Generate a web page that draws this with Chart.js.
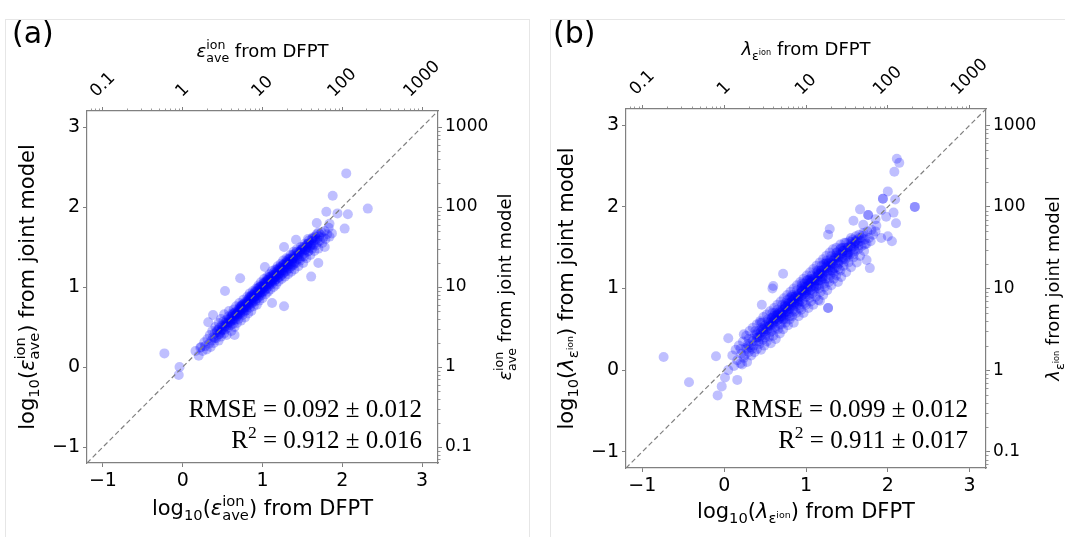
<!DOCTYPE html>
<html>
<head>
<meta charset="utf-8">
<script src="https://cdn.jsdelivr.net/npm/chart.js@4.4.1/dist/chart.umd.min.js"></script>
<style>
html, body { margin: 0; padding: 0; background: #fff; }
#wrap { position: relative; width: 1065px; height: 537px; overflow: hidden; }
.frame { position: absolute; border: 1px solid #e6e6e6; }
canvas { position: absolute; top: 0; }
</style>
</head>
<body>
<div id="wrap">
  <div class="frame" style="left:5px;top:19px;width:523px;height:540px"></div>
  <div class="frame" style="left:550px;top:19px;width:530px;height:540px"></div>
  <canvas id="chartA" width="540" height="537" style="left:0"></canvas>
  <canvas id="chartB" width="525" height="537" style="left:540px"></canvas>
</div>
<script>
// Axes communs (log10)
const axisRange = [-1.2, 3.2];
const linearTicks = [-1, 0, 1, 2, 3];
const decadeTicks = [0.1, 1, 10, 100, 1000];
const decadeLabels = ['0.1', '1', '10', '100', '1000'];
const minorTicks = [0.07, 0.08, 0.09, 0.2, 0.3, 0.4, 0.5, 0.6, 0.7, 0.8, 0.9,
    2, 3, 4, 5, 6, 7, 8, 9, 20, 30, 40, 50, 60, 70, 80, 90,
    200, 300, 400, 500, 600, 700, 800, 900];

// Panneau (a) : [log10 DFPT, log10 modèle]
const pointsA = [
    [0.22,0.24],[0.25,0.20],[0.27,0.31],[0.28,0.26],[0.30,0.22],[0.31,0.35],[0.33,0.29],[0.34,0.40],[0.35,0.25],[0.36,0.33],
    [0.37,0.45],[0.38,0.37],[0.39,0.30],[0.40,0.42],[0.41,0.50],[0.42,0.36],[0.43,0.46],[0.44,0.40],[0.45,0.55],[0.45,0.33],
    [0.46,0.49],[0.47,0.43],[0.48,0.60],[0.48,0.38],[0.49,0.52],[0.50,0.46],[0.51,0.57],[0.52,0.42],[0.52,0.66],[0.53,0.51],
    [0.54,0.47],[0.55,0.59],[0.55,0.40],[0.56,0.54],[0.57,0.63],[0.57,0.49],[0.58,0.70],[0.59,0.56],[0.60,0.52],[0.60,0.62],
    [0.61,0.45],[0.62,0.67],[0.62,0.58],[0.63,0.54],[0.64,0.72],[0.64,0.61],[0.65,0.50],[0.66,0.65],[0.66,0.59],[0.67,0.76],
    [0.68,0.63],[0.68,0.55],[0.69,0.70],[0.70,0.66],[0.70,0.60],[0.71,0.80],[0.72,0.68],[0.72,0.73],[0.73,0.58],[0.74,0.71],
    [0.74,0.77],[0.75,0.65],[0.76,0.84],[0.76,0.73],[0.77,0.69],[0.78,0.78],[0.78,0.62],[0.79,0.75],[0.80,0.82],[0.80,0.71],
    [0.81,0.88],[0.82,0.77],[0.82,0.67],[0.83,0.81],[0.84,0.74],[0.84,0.92],[0.85,0.85],[0.86,0.79],[0.86,0.70],[0.87,0.88],
    [0.88,0.83],[0.88,0.95],[0.89,0.76],[0.90,0.87],[0.90,0.92],[0.91,0.82],[0.92,0.98],[0.92,0.89],[0.93,0.78],[0.94,0.93],
    [0.94,0.86],[0.95,1.02],[0.96,0.91],[0.96,0.83],[0.97,0.97],[0.98,0.89],[0.98,1.06],[0.99,0.94],[1.00,0.99],[1.00,0.86],
    [1.01,1.04],[1.02,0.95],[1.02,1.10],[1.03,1.00],[1.04,0.91],[1.04,1.06],[1.05,0.98],[1.06,1.13],[1.06,1.03],[1.07,0.94],
    [1.08,1.08],[1.08,1.01],[1.09,1.16],[1.10,1.05],[1.10,0.97],[1.11,1.11],[1.12,1.04],[1.12,1.20],[1.13,1.09],[1.14,1.00],
    [1.14,1.14],[1.15,1.07],[1.16,1.22],[1.16,1.12],[1.17,1.03],[1.18,1.17],[1.18,1.10],[1.19,1.26],[1.20,1.15],[1.20,1.07],
    [1.21,1.20],[1.22,1.13],[1.23,1.29],[1.23,1.18],[1.24,1.10],[1.25,1.24],[1.26,1.17],[1.26,1.33],[1.27,1.21],[1.28,1.13],
    [1.29,1.27],[1.30,1.20],[1.30,1.36],[1.31,1.25],[1.32,1.16],[1.33,1.31],[1.34,1.23],[1.35,1.40],[1.35,1.28],[1.36,1.19],
    [1.37,1.34],[1.38,1.27],[1.39,1.44],[1.40,1.31],[1.40,1.22],[1.41,1.37],[1.42,1.30],[1.43,1.47],[1.44,1.35],[1.45,1.26],
    [1.46,1.41],[1.47,1.33],[1.48,1.50],[1.49,1.38],[1.50,1.45],[1.51,1.30],[1.52,1.42],[1.53,1.54],[1.54,1.47],[1.55,1.36],
    [1.56,1.51],[1.57,1.44],[1.58,1.58],[1.59,1.49],[1.60,1.40],[1.61,1.55],[1.62,1.48],[1.63,1.62],[1.64,1.53],[1.65,1.45],
    [1.66,1.59],[1.67,1.52],[1.68,1.66],[1.69,1.56],[1.70,1.48],[1.71,1.63],[1.72,1.58],[1.74,1.68],[1.75,1.55],[1.76,1.62],
    [1.78,1.70],[1.79,1.60],[1.81,1.66],[1.83,1.74],[1.84,1.63],
    [0.62,0.63],[0.65,0.68],[0.68,0.67],[0.71,0.72],[0.73,0.75],[0.75,0.74],[0.77,0.79],[0.79,0.77],[0.81,0.81],[0.83,0.86],
    [0.85,0.82],[0.87,0.90],[0.89,0.87],[0.91,0.93],[0.93,0.90],[0.95,0.96],[0.97,0.93],[0.99,1.00],[1.01,0.98],[1.03,1.05],
    [1.05,1.02],[1.07,1.09],[1.09,1.06],[1.11,1.13],[1.13,1.10],[1.15,1.16],[1.17,1.14],[1.19,1.20],[1.21,1.17],[1.23,1.24],
    [1.25,1.21],[1.27,1.28],[1.29,1.25],[1.31,1.31],[1.33,1.28],[1.35,1.35],[1.37,1.31],[1.39,1.38],[1.42,1.39],[1.45,1.43],
    [1.48,1.46],[1.51,1.49],[1.55,1.52],[1.58,1.55],[1.62,1.60],[1.66,1.63],[1.70,1.68],
    [0.40,0.36],[0.43,0.44],[0.46,0.41],[0.49,0.47],[0.52,0.50],[0.54,0.55],[0.56,0.52],[0.58,0.60],[0.60,0.57],[0.62,0.65],
    [0.64,0.59],[0.66,0.68],[0.68,0.64],[0.70,0.73],[0.72,0.66],[0.74,0.76],[0.76,0.70],[0.78,0.81],[0.80,0.74],[0.82,0.84],
    [0.84,0.79],[0.86,0.89],[0.88,0.81],[0.90,0.94],[0.92,0.85],[0.94,0.98],[0.96,0.89],[0.98,1.01],[1.00,0.93],[1.02,1.06],
    [1.04,0.97],[1.06,1.09],[1.08,1.03],[1.10,1.13],[1.12,1.07],[1.14,1.18],[1.16,1.09],[1.18,1.22],[1.20,1.12],[1.22,1.25],
    [1.24,1.15],[1.26,1.28],[1.28,1.19],[1.30,1.32],[1.32,1.23],[1.34,1.36],[1.36,1.26],[1.38,1.40],[1.40,1.29],[1.43,1.44],
    [1.46,1.35],[1.49,1.47],[1.52,1.38],[1.55,1.49],[1.58,1.45],[1.61,1.52],[1.64,1.58],[1.68,1.60],[1.72,1.66],
    [0.50,0.51],[0.55,0.54],[0.60,0.60],[0.65,0.64],[0.70,0.69],[0.74,0.73],[0.78,0.76],[0.82,0.80],[0.86,0.85],[0.90,0.88],
    [0.94,0.92],[0.98,0.96],[1.02,1.00],[1.06,1.05],[1.10,1.08],[1.14,1.12],[1.18,1.16],[1.22,1.21],[1.26,1.24],[1.30,1.28],
    [1.34,1.32],[1.38,1.35],[1.44,1.40],[1.50,1.47],[1.56,1.53],[0.84,0.88],[0.96,1.00],[1.08,1.12],[1.20,1.23],[0.72,0.76],
    [1.32,1.35],
    [0.45,0.47],[0.48,0.45],[0.53,0.55],[0.57,0.56],[0.61,0.59],[0.63,0.66],[0.67,0.66],[0.69,0.67],[0.71,0.70],[0.73,0.71],
    [0.75,0.78],[0.77,0.74],[0.79,0.79],[0.81,0.78],[0.83,0.83],[0.85,0.87],[0.87,0.84],[0.89,0.90],[0.91,0.89],[0.93,0.95],
    [0.95,0.93],[0.97,1.00],[0.99,0.97],[1.01,1.02],[1.03,1.03],[1.05,1.07],[1.07,1.04],[1.09,1.10],[1.11,1.08],[1.13,1.15],
    [1.15,1.12],[1.17,1.18],[1.19,1.15],[1.21,1.22],[1.23,1.20],[1.25,1.27],[1.27,1.24],[1.29,1.30],[1.31,1.28],[1.33,1.34],
    [1.36,1.32],[1.39,1.36],[1.41,1.42],[1.44,1.38],[1.47,1.44],[1.50,1.50],[1.53,1.46],[1.57,1.54],[1.60,1.52],[1.64,1.61],
    [2.05,2.42],[1.88,2.14],[2.32,1.98],[1.80,1.94],[2.07,1.91],[1.94,1.92],[1.68,1.80],[1.84,1.79],[2.03,1.73],[1.87,1.67],
    [1.78,1.50],[1.70,1.30],[1.61,1.13],[1.42,1.59],[1.27,1.50],[1.27,0.76],[1.12,0.80],[0.53,0.95],[-0.23,0.17],[-0.04,0.00],
    [-0.05,-0.10],[0.23,0.25],[0.38,0.65],[0.32,0.56],[0.65,0.40],[0.72,1.11],[1.03,1.25],[1.57,1.60],[0.16,0.20],[0.20,0.14]
];

// Panneau (b) : [log10 DFPT, log10 modèle]
const pointsB = [
    [0.10,0.18],[0.12,0.05],[0.14,0.25],[0.16,0.12],[0.18,0.30],[0.20,0.08],[0.21,0.20],[0.23,0.35],[0.24,0.15],[0.26,0.27],
    [0.27,0.42],[0.28,0.10],[0.29,0.32],[0.30,0.22],[0.31,0.48],[0.32,0.28],[0.33,0.18],[0.34,0.38],[0.35,0.52],[0.36,0.30],
    [0.37,0.22],[0.38,0.44],[0.39,0.35],[0.40,0.56],[0.40,0.26],[0.41,0.40],[0.42,0.48],[0.43,0.32],[0.44,0.60],[0.45,0.42],
    [0.45,0.25],[0.46,0.52],[0.47,0.37],[0.48,0.65],[0.48,0.46],[0.49,0.30],[0.50,0.55],[0.51,0.43],[0.52,0.68],[0.52,0.35],
    [0.53,0.50],[0.54,0.60],[0.55,0.41],[0.56,0.72],[0.56,0.55],[0.57,0.33],[0.58,0.48],[0.59,0.64],[0.60,0.58],[0.60,0.42],
    [0.61,0.76],[0.62,0.53],[0.63,0.67],[0.63,0.38],[0.64,0.60],[0.65,0.80],[0.66,0.50],[0.66,0.70],[0.67,0.62],[0.68,0.45],
    [0.69,0.84],[0.69,0.66],[0.70,0.56],[0.71,0.74],[0.72,0.62],[0.72,0.50],[0.73,0.88],[0.74,0.70],[0.74,0.78],[0.75,0.58],
    [0.76,0.66],[0.77,0.92],[0.77,0.74],[0.78,0.55],[0.79,0.82],[0.80,0.70],[0.80,0.62],[0.81,0.96],[0.82,0.78],[0.83,0.86],
    [0.83,0.66],[0.84,0.74],[0.85,1.00],[0.85,0.58],[0.86,0.82],[0.87,0.90],[0.88,0.70],[0.88,0.78],[0.89,1.04],[0.90,0.86],
    [0.91,0.94],[0.91,0.66],[0.92,0.80],[0.93,1.08],[0.94,0.90],[0.94,0.74],[0.95,0.98],[0.96,0.84],[0.97,1.12],[0.97,0.70],
    [0.98,0.94],[0.99,1.02],[1.00,0.80],[1.00,0.90],[1.01,1.16],[1.02,0.98],[1.03,1.06],[1.03,0.76],[1.04,0.88],[1.05,1.20],
    [1.06,1.02],[1.06,0.84],[1.07,1.10],[1.08,0.94],[1.09,1.24],[1.09,0.80],[1.10,1.06],[1.11,1.14],[1.12,0.90],[1.12,1.00],
    [1.13,1.28],[1.14,1.10],[1.15,0.86],[1.15,1.18],[1.16,1.04],[1.17,1.32],[1.18,0.96],[1.18,1.14],[1.19,1.22],[1.20,1.08],
    [1.21,0.92],[1.21,1.36],[1.22,1.18],[1.23,1.02],[1.24,1.26],[1.24,1.12],[1.25,1.40],[1.26,0.98],[1.27,1.22],[1.27,1.30],
    [1.28,1.08],[1.29,1.44],[1.30,1.16],[1.30,1.26],[1.31,1.04],[1.32,1.34],[1.33,1.48],[1.33,1.20],[1.34,1.12],[1.35,1.30],
    [1.36,1.38],[1.37,1.50],[1.37,1.16],[1.38,1.26],[1.39,1.08],[1.40,1.42],[1.41,1.34],[1.42,1.54],[1.42,1.22],[1.43,1.14],
    [1.44,1.38],[1.45,1.46],[1.46,1.28],[1.47,1.56],[1.48,1.36],[1.49,1.20],[1.50,1.44],[1.51,1.50],[1.52,1.32],[1.53,1.58],
    [1.54,1.42],[1.55,1.26],[1.56,1.50],[1.57,1.60],[1.58,1.38],[1.59,1.52],[1.60,1.46],[1.61,1.64],[1.62,1.32],[1.63,1.56],
    [1.64,1.48],[1.65,1.66],[1.66,1.40],[1.67,1.58],[1.68,1.52],[1.70,1.68],[1.71,1.46],[1.72,1.60],[1.74,1.55],[1.75,1.70],
    [1.77,1.62],[1.79,1.58],[1.80,1.72],[1.82,1.66],[1.85,1.70],
    [0.30,0.30],[0.35,0.36],[0.40,0.40],[0.44,0.45],[0.48,0.50],[0.52,0.53],[0.55,0.56],[0.58,0.58],[0.61,0.62],[0.64,0.64],
    [0.66,0.68],[0.68,0.69],[0.70,0.71],[0.72,0.73],[0.74,0.75],[0.76,0.77],[0.78,0.79],[0.80,0.81],[0.82,0.83],[0.84,0.85],
    [0.86,0.87],[0.88,0.89],[0.90,0.91],[0.92,0.93],[0.94,0.95],[0.96,0.97],[0.98,0.99],[1.00,1.01],[1.02,1.03],[1.04,1.05],
    [1.06,1.07],[1.08,1.09],[1.10,1.11],[1.12,1.13],[1.14,1.15],[1.16,1.17],[1.18,1.19],[1.20,1.21],[1.22,1.23],[1.25,1.25],
    [1.28,1.28],[1.31,1.31],[1.34,1.34],[1.37,1.37],[1.40,1.39],[1.44,1.43],[1.48,1.47],[1.52,1.51],[1.56,1.55],[1.60,1.58],
    [1.65,1.62],[1.70,1.65],
    [0.60,0.66],[0.70,0.64],[0.80,0.88],[0.85,0.80],[0.95,1.03],[1.00,0.95],[1.05,1.12],[1.10,1.02],[1.15,1.22],[1.20,1.12],
    [1.30,1.36],[1.35,1.25],[1.45,1.50],[1.50,1.40],[0.75,0.82],[0.90,0.84],[1.25,1.32],[1.40,1.30],
    [0.20,0.26],[0.25,0.18],[0.30,0.38],[0.34,0.26],[0.38,0.48],[0.42,0.35],[0.46,0.58],[0.50,0.40],[0.53,0.62],[0.56,0.46],
    [0.59,0.70],[0.62,0.50],[0.65,0.74],[0.68,0.56],[0.71,0.80],[0.74,0.62],[0.77,0.86],[0.80,0.66],[0.83,0.92],[0.86,0.72],
    [0.89,0.98],[0.92,0.76],[0.95,1.06],[0.98,0.82],[1.01,1.10],[1.04,0.92],[1.07,1.16],[1.10,0.96],[1.13,1.22],[1.16,1.00],
    [1.19,1.28],[1.22,1.06],[1.25,1.34],[1.28,1.12],[1.31,1.40],[1.34,1.18],[1.37,1.44],[1.40,1.24],[1.43,1.50],[1.46,1.32],
    [1.49,1.56],[1.52,1.38],[1.55,1.62],[1.58,1.42],[1.61,1.58],[1.64,1.52],[1.68,1.62],[1.72,1.54],
    [0.45,0.47],[0.50,0.50],[0.55,0.58],[0.60,0.60],[0.65,0.67],[0.70,0.68],[0.75,0.77],[0.80,0.78],[0.85,0.88],[0.90,0.88],
    [0.95,0.97],[1.00,0.98],[1.05,1.08],[1.10,1.08],[1.15,1.17],[1.20,1.18],[1.25,1.28],[1.30,1.29],[1.35,1.37],[1.40,1.38],
    [1.45,1.46],[1.50,1.47],[1.55,1.57],[1.60,1.55],[0.62,0.70],[0.72,0.66],[0.82,0.90],[0.92,0.84],[1.02,1.10],[1.12,1.02],
    [1.22,1.30],[1.32,1.22],[1.42,1.48],[1.52,1.44],[0.58,0.64],[0.78,0.72],[0.98,1.06],[1.18,1.10],[1.38,1.44],
    [0.40,0.44],[0.43,0.40],[0.47,0.50],[0.51,0.48],[0.54,0.53],[0.57,0.60],[0.59,0.56],[0.62,0.62],[0.64,0.68],[0.66,0.62],
    [0.68,0.72],[0.70,0.66],[0.72,0.70],[0.74,0.79],[0.76,0.72],[0.78,0.82],[0.80,0.75],[0.82,0.80],[0.84,0.90],[0.86,0.83],
    [0.88,0.92],[0.90,0.82],[0.92,0.90],[0.94,1.00],[0.96,0.92],[0.98,1.02],[1.00,0.93],[1.02,1.00],[1.04,1.10],[1.06,0.98],
    [1.08,1.12],[1.10,1.04],[1.12,1.10],[1.14,1.20],[1.16,1.10],[1.18,1.22],[1.20,1.14],[1.22,1.20],[1.24,1.30],[1.26,1.20],
    [1.28,1.32],[1.30,1.22],[1.33,1.30],[1.36,1.40],[1.39,1.32],[1.42,1.42],[1.45,1.36],[1.48,1.50],[1.51,1.42],[1.55,1.52],
    [1.59,1.48],[1.63,1.60],
    [2.11,2.59],[2.14,2.54],[2.08,2.43],[2.00,2.19],[1.94,2.10],[1.94,2.10],[2.09,2.09],[2.33,2.00],[2.33,2.00],[1.66,1.97],
    [1.92,1.96],[1.76,1.90],[1.76,1.90],[2.07,1.93],[1.58,1.83],[1.86,1.77],[2.10,1.80],[2.00,1.64],[2.05,1.58],[1.92,1.62],
    [1.29,1.73],[1.27,1.66],[1.78,1.25],[1.74,1.35],[1.27,0.76],[1.27,0.76],[1.17,0.85],[0.59,1.00],[0.46,0.80],[0.05,0.39],
    [-0.10,0.17],[-0.74,0.16],[-0.43,-0.15],[-0.08,-0.31],[-0.03,-0.20],[0.16,-0.12],[0.01,-0.09],[0.05,0.00],[0.22,0.07],[0.28,0.26],
    [0.24,0.44],[0.44,0.58],[0.72,1.18],[0.60,1.03],[1.70,1.78],[1.85,1.85],[1.98,1.88]
];

const SANS = '"DejaVu Sans", sans-serif';
const SERIF = '"Liberation Serif", "DejaVu Serif", serif';
const AXIS_GREY = '#808080';

// Morceaux de texte avec indices / exposants
const SUP = { s: 0.7, dy: -0.42 };
const SUB = { s: 0.7, dy: 0.26 };
const epsAve = [{ t: 'ε', it: true }, Object.assign({ t: 'ion' }, SUP), Object.assign({ t: 'ave', stack: true }, SUB)];
const lamEps = [{ t: 'λ', it: true }, { t: 'ε', s: 0.7, dy: 0.26 }, { t: 'ion', s: 0.45, dy: -0.02 }];
const log10Of = sym => [{ t: 'log' }, Object.assign({ t: '10' }, SUB), { t: '(' }].concat(sym);

function fmtLinear(v) {
    return v < 0 ? '\u2212' + Math.abs(v) : String(v);
}

function layoutRich(ctx, parts, size, family) {
    let w = 0, start = 0, pw = 0;
    const items = [];
    parts.forEach(p => {
        const fs = size * (p.s || 1);
        const font = (p.it ? 'italic ' : '') + fs + 'px ' + family;
        ctx.font = font;
        const tw = ctx.measureText(p.t).width;
        let x;
        if (p.stack) {
            x = start; pw = Math.max(pw, tw); w = start + pw;
        } else {
            x = w; start = w; pw = tw; w += tw;
        }
        items.push({ t: p.t, font: font, x: x, dy: (p.dy || 0) * size });
    });
    return { items: items, width: w };
}

function drawRich(ctx, parts, x, y, size, family, align, angle) {
    const lay = layoutRich(ctx, parts, size, family);
    ctx.save();
    ctx.translate(x, y);
    if (angle) ctx.rotate(angle);
    const x0 = align === 'center' ? -lay.width / 2 : (align === 'right' ? -lay.width : 0);
    ctx.textAlign = 'left';
    ctx.textBaseline = 'alphabetic';
    ctx.fillStyle = '#000';
    lay.items.forEach(it => {
        ctx.font = it.font;
        ctx.fillText(it.t, x0 + it.x, it.dy);
    });
    ctx.restore();
}

function makePanel(canvasId, points, cfg) {
    // Décor : petites graduations, étiquettes du haut, titres, statistiques
    const decorPlugin = {
        id: 'decor',
        afterDraw(chart) {
            const ctx = chart.ctx;
            const a = chart.chartArea;
            const sx = chart.scales.x2, sy = chart.scales.y2;
            ctx.save();
            ctx.strokeStyle = AXIS_GREY;
            ctx.lineWidth = 0.8;
            ctx.beginPath();
            minorTicks.forEach(v => {
                const px = Math.round(sx.getPixelForValue(v)) + 0.5;
                ctx.moveTo(px, a.top); ctx.lineTo(px, a.top - 2.5);
                const py = Math.round(sy.getPixelForValue(v)) + 0.5;
                ctx.moveTo(a.right, py); ctx.lineTo(a.right + 2.5, py);
            });
            ctx.stroke();

            // étiquettes du haut, tournées de 45°
            ctx.font = '17px ' + SANS;
            ctx.fillStyle = '#000';
            ctx.textAlign = 'center';
            ctx.textBaseline = 'middle';
            decadeTicks.forEach((v, i) => {
                const txt = decadeLabels[i];
                const w = ctx.measureText(txt).width;
                const half = (w + 0.75 * 17) / (2 * Math.SQRT2);
                const px = sx.getPixelForValue(v);
                ctx.save();
                ctx.translate(px, a.top - 12 - half);
                ctx.rotate(-Math.PI / 4);
                ctx.fillText(txt, 0, 0);
                ctx.restore();
            });
            ctx.restore();

            const cx = (a.left + a.right) / 2, cy = (a.top + a.bottom) / 2;
            drawRich(ctx, cfg.bottomTitle, cx, a.bottom + cfg.bottomTitleGap, 21, SANS, 'center');
            drawRich(ctx, cfg.leftTitle, a.left - 53, cy, 21, SANS, 'center', -Math.PI / 2);
            drawRich(ctx, cfg.topTitle, cx, a.top - 54, 18, SANS, 'center');
            drawRich(ctx, cfg.rightTitle, a.right + 73, cy, 18, SANS, 'center', -Math.PI / 2);
            drawRich(ctx, [{ t: cfg.letter }], 12 + cfg.letterShift, 43, 30, SANS, 'left');
            drawRich(ctx, [{ t: 'RMSE = ' + cfg.rmse }], a.right - cfg.statRight, a.bottom - cfg.statLow - 31, 25, SERIF, 'right');
            drawRich(ctx, [{ t: 'R' }, { t: '2', s: 0.7, dy: -0.4 }, { t: ' = ' + cfg.r2 }],
                a.right - cfg.statRight, a.bottom - cfg.statLow, 25, SERIF, 'right');
        }
    };

    const tickFont = { family: SANS, size: 19 };
    const common = {
        grid: { drawOnChartArea: false, tickLength: 4, tickColor: AXIS_GREY, tickWidth: 1 },
        border: { color: AXIS_GREY, width: 1.2 }
    };

    return new Chart(document.getElementById(canvasId), {
        type: 'scatter',
        data: {
            datasets: [{
                type: 'line',
                order: 0,
                data: [{ x: axisRange[0], y: axisRange[0] }, { x: axisRange[1], y: axisRange[1] }],
                borderColor: AXIS_GREY,
                borderWidth: 1.2,
                borderDash: [5, 3],
                pointRadius: 0,
                fill: false
            }, {
                order: 1,
                data: points.map(p => ({ x: p[0], y: p[1] })),
                pointBackgroundColor: 'rgba(0, 0, 255, 0.25)',
                pointBorderWidth: 0,
                pointBorderColor: 'rgba(0, 0, 0, 0)',
                pointRadius: 5
            }]
        },
        options: {
            responsive: false,
            animation: false,
            devicePixelRatio: 1,
            layout: { padding: 0 },
            plugins: { legend: { display: false }, tooltip: { enabled: false } },
            scales: {
                x: Object.assign({
                    type: 'linear', position: 'bottom', min: axisRange[0], max: axisRange[1],
                    afterBuildTicks: s => { s.ticks = linearTicks.map(v => ({ value: v })); },
                    afterFit: s => { s.height = cfg.bottom; },
                    ticks: { callback: fmtLinear, font: tickFont, color: '#000', padding: 3, maxRotation: 0, autoSkip: false }
                }, common),
                y: Object.assign({
                    type: 'linear', position: 'left', min: axisRange[0], max: axisRange[1],
                    afterBuildTicks: s => { s.ticks = linearTicks.map(v => ({ value: v })); },
                    afterFit: s => { s.width = cfg.left; },
                    ticks: { callback: fmtLinear, font: tickFont, color: '#000', padding: 3, autoSkip: false }
                }, common),
                x2: Object.assign({
                    type: 'logarithmic', position: 'top', min: Math.pow(10, axisRange[0]), max: Math.pow(10, axisRange[1]),
                    afterBuildTicks: s => { s.ticks = decadeTicks.map(v => ({ value: v })); },
                    afterFit: s => { s.height = cfg.top; },
                    ticks: { display: false }
                }, common),
                y2: Object.assign({
                    type: 'logarithmic', position: 'right', min: Math.pow(10, axisRange[0]), max: Math.pow(10, axisRange[1]),
                    afterBuildTicks: s => { s.ticks = decadeTicks.map(v => ({ value: v })); },
                    afterFit: s => { s.width = cfg.right; },
                    ticks: {
                        callback: (v, i) => decadeLabels[i],
                        font: { family: SANS, size: 17 }, color: '#000', padding: 3, autoSkip: false
                    }
                }, common)
            }
        },
        plugins: [decorPlugin]
    });
}

makePanel('chartA', pointsA, {
    left: 87, right: 102, top: 111, bottom: 74,
    letter: '(a)', letterShift: 0,
    bottomTitle: log10Of(epsAve).concat([{ t: ') from DFPT' }]),
    leftTitle: log10Of(epsAve).concat([{ t: ') from joint model' }]),
    topTitle: epsAve.concat([{ t: ' from DFPT' }]),
    rightTitle: epsAve.concat([{ t: ' from joint model' }]),
    bottomTitleGap: 52,
    rmse: '0.092 ± 0.012', r2: '0.912 ± 0.016',
    statRight: 16, statLow: 15
});

makePanel('chartB', pointsB, {
    left: 86, right: 79, top: 109, bottom: 69,
    letter: '(b)', letterShift: 1,
    bottomTitle: log10Of(lamEps).concat([{ t: ') from DFPT' }]),
    leftTitle: log10Of(lamEps).concat([{ t: ') from joint model' }]),
    topTitle: lamEps.concat([{ t: ' from DFPT' }]),
    rightTitle: lamEps.concat([{ t: ' from joint model' }]),
    bottomTitleGap: 50,
    rmse: '0.099 ± 0.012', r2: '0.911 ± 0.017',
    statRight: 18, statLow: 20
});
</script>
</body>
</html>
